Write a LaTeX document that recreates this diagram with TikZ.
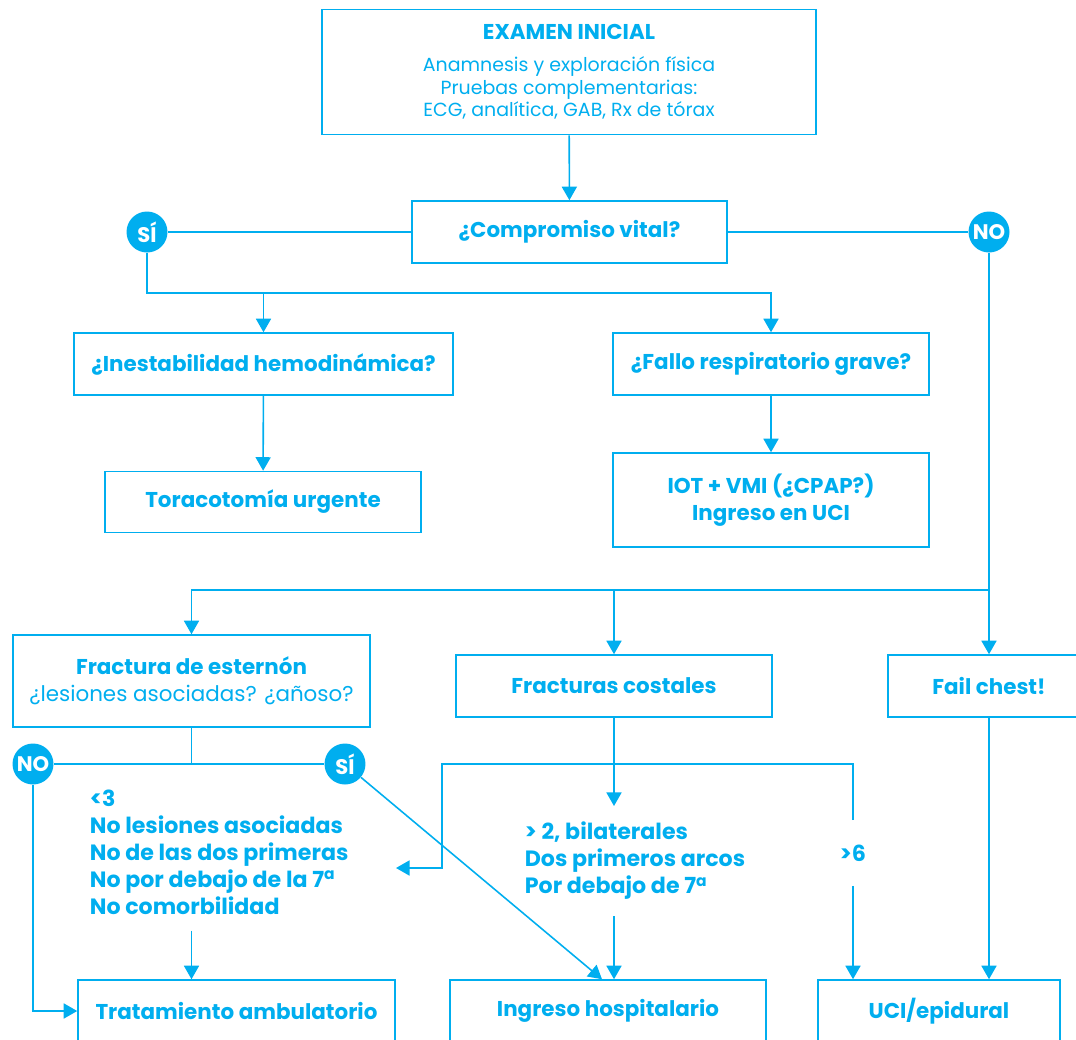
\documentclass[tikz,border=0pt]{standalone}
\usepackage{fontspec}
\setmainfont{Poppins}
\usepackage{tikz}
\usetikzlibrary{positioning, arrows.meta, calc}
\definecolor{flowcyan}{HTML}{00AEEF}

\begin{document}
\begin{tikzpicture}[
    x=0.02cm, y=-0.02cm,
    flowbox/.style={draw=flowcyan, line width=0.9pt, rectangle, minimum width=6.32cm, minimum height=1.24cm, align=center, text=flowcyan, font=\fontsize{12.2}{15.3}\selectfont\bfseries, inner sep=4pt},
    answercirc/.style={circle, fill=flowcyan, text=white, minimum size=0.82cm, inner sep=0pt, font=\fontsize{12}{14}\selectfont\bfseries},
    criteria/.style={align=left, text=flowcyan, font=\fontsize{12.6}{15.4}\selectfont\bfseries, inner xsep=2pt, inner ysep=9pt},
    link/.style={draw=flowcyan, line width=0.9pt},
    arrowlink/.style={link, -{Triangle[length=0.27cm, width=0.3cm]}},
]
\useasboundingbox (0,0) rectangle (1076,1039);
\clip (0,0) rectangle (1076,1039);

% initial assessment
\node[flowbox, minimum width=9.88cm, minimum height=2.5cm, font=\fontsize{10.8}{13}\selectfont\mdseries] (inicial) at (569,72)
   {{\bfseries\fontsize{12.2}{14}\selectfont EXAMEN INICIAL}\\[5pt]Anamnesis y exploración física\\Pruebas complementarias:\\ECG, analítica, GAB, Rx de tórax};
\node[flowbox, minimum width=6.3cm] (compromiso) at (569.5,232) {¿Compromiso vital?};
\node[answercirc] (si1) at (147,232) {SÍ};
\node[answercirc] (no1) at (989,232) {NO};
\coordinate (sibar) at (0,293);
\coordinate (nobar) at (0,590);

% life threatening branch
\node[flowbox, minimum width=7.58cm] (inestab) at (263.5,364) {¿Inestabilidad hemodinámica?};
\node[flowbox] (fallo) at (771,364) {¿Fallo respiratorio grave?};
\node[flowbox, minimum height=1.22cm] (toraco) at (263,502) {Toracotomía urgente};
\node[flowbox, minimum height=1.88cm] (iot) at (771,500) {IOT + VMI (¿CPAP?)\\Ingreso en UCI};

% fractures
\node[flowbox, minimum width=7.14cm, minimum height=1.84cm] (esternon) at (191.5,681)
   {Fractura de esternón\\{\mdseries ¿lesiones asociadas? ¿añoso?}};
\node[flowbox] (costales) at (614,686) {Fracturas costales};
\node[flowbox, minimum width=4.04cm] (fail) at (989,686) {Fail chest!};
\node[answercirc] (no2) at (33,764) {NO};
\node[answercirc] (si2) at (345,764) {SÍ};

% criteria
\node[criteria, anchor=west] (leves) at (86,852)
   {<3\\No lesiones asociadas\\No de las dos primeras\\No por debajo de la 7\textsuperscript{a}\\No comorbilidad};
\node[criteria, anchor=west] (graves) at (521,861)
   {> 2, bilaterales\\Dos primeros arcos\\Por debajo de 7\textsuperscript{a}};
\node[criteria, inner ysep=2pt, minimum height=1.3cm] (mayor6) at (853,853) {>6};
\coordinate (costbar) at (442,764);
\coordinate (lvin) at (396,868);

% outcomes
\node[flowbox, minimum width=6.34cm] (ambul) at (236.5,1011) {Tratamiento ambulatorio};
\node[flowbox] (hosp) at (608,1011) {Ingreso hospitalario};
\node[flowbox, minimum width=4.84cm] (ucie) at (939,1011) {UCI/epidural};

% top connectors
\draw[arrowlink] (inicial) -- (compromiso);
\draw[link] (compromiso) -- (si1);
\draw[link] (compromiso) -- (no1);
\draw[arrowlink] (si1) |- (sibar -| fallo) -- (fallo);
\draw[arrowlink] (sibar -| inestab) -- (inestab);
\draw[arrowlink] (inestab) -- (toraco);
\draw[arrowlink] (fallo) -- (iot);
\draw[arrowlink] (no1) |- (nobar -| esternon) -- (esternon);
\draw[arrowlink] (nobar -| costales) -- (costales);
\draw[arrowlink] (no1) -- (fail);

% sternum branch
\draw[link] (esternon) -- (esternon.south |- no2);
\draw[link] (no2) -- (si2);
\draw[arrowlink] (no2) |- (ambul);
\draw[arrowlink] (leves.south -| esternon) -- (ambul.north -| esternon);
\draw[arrowlink] (si2) -- ($(hosp.north)+(-6,0)$);

% rib branch
\draw[arrowlink] (costales) -- (graves.north -| costales);
\draw[arrowlink] (mayor6) |- (costbar) |- (lvin);
\draw[arrowlink] (graves.south -| costales) -- (hosp.north -| costales);
\draw[arrowlink] (mayor6) -- (ucie.north -| mayor6);
\draw[arrowlink] (fail) -- (ucie.north -| fail);
\end{tikzpicture}
\end{document}
